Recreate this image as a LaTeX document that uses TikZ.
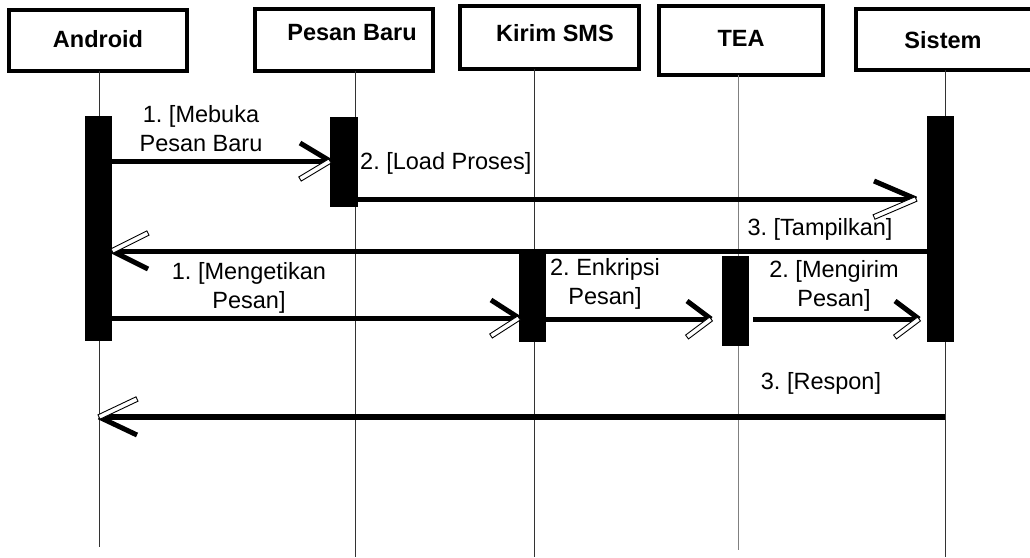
\documentclass[tikz,border=0pt]{standalone}
\usepackage{fontspec}
\setmainfont{Liberation Sans}
\usetikzlibrary{calc,decorations.markings}
\frenchspacing

% Arrow head of a message: a solid barb on the left of the direction of travel
% and an outlined (hollow) barb on the right. #1 = barb length along the line.
\newcommand\msgbarbs[1]{%
  \pgfmathsetmacro\barbang{atan2(-18,-#1)}%
  \pgfmathsetmacro\barblen{veclen(#1,18)}%
  \draw[line width=5pt, line cap=butt] (0pt,0pt) -- (-#1pt,18pt);
  \draw[line width=0.9pt, fill=white, rotate=\barbang] (0pt,-2.4pt) rectangle (\barblen pt,2.4pt);
}

\tikzset{
  actor/.style={draw, line width=3.8pt, fill=white, inner sep=0pt, outer sep=0pt},
  title/.style={font=\fontsize{23.5}{28}\selectfont\bfseries, inner sep=0pt},
  lifeline/.style={line width=1pt, draw=black!80},
  bar/.style={fill=black, inner sep=0pt, outer sep=0pt},
  msglabel/.style={font=\fontsize{23.5}{29}\selectfont, align=center, inner sep=0pt},
  msg/.style={line width=5pt, postaction={decorate},
    decoration={markings, mark=at position 1 with {\msgbarbs{#1}}}},
  msg/.default=30,
}

\begin{document}
\begin{tikzpicture}[x=1pt,y=-1pt]
  \useasboundingbox (0,0) rectangle (1030,557);
  \fill[white] (0,0) rectangle (1030,557);
  \clip (0,0) rectangle (1030,557);

  % object boxes
  \node[actor, minimum width=178.2pt, minimum height=61.2pt] (android) at (98,40.5) {};
  \node[actor, minimum width=178.2pt, minimum height=62.2pt] (pesan) at (344,40) {};
  \node[actor, minimum width=179.2pt, minimum height=63.2pt] (kirim) at (549.5,37.5) {};
  \node[actor, minimum width=164.2pt, minimum height=69.2pt] (tea) at (741,40.5) {};
  \node[actor, minimum width=182.2pt, minimum height=61.2pt] (sistem) at (947,39.5) {};

  \node[title] (tAndroid) at (98,39) {Android};
  \node[title] (tPesan) at (352,33) {Pesan Baru};
  \node[title] (tKirim) at (555,33) {Kirim SMS};
  \node[title] (tTea) at (741,38) {TEA};
  \node[title] (tSistem) at (943,40) {Sistem};

  % lifelines
  \coordinate (endA) at (99,547);
  \coordinate (endP) at (355,557);
  \coordinate (endK) at (534,557);
  \coordinate (endT) at (738,550);
  \coordinate (endS) at (945,557);
  \draw[lifeline] (android.south -| endA) -- (endA);
  \draw[lifeline] (pesan.south -| endP) -- (endP);
  \draw[lifeline] (kirim.south -| endK) -- (endK);
  \draw[lifeline, draw=black!50] (tea.south -| endT) -- (endT);
  \draw[lifeline] (sistem.south -| endS) -- (endS);

  % activation bars
  \node[bar, minimum width=27pt, minimum height=225pt] (barA) at (98.5,228.5) {};
  \node[bar, minimum width=28pt, minimum height=90pt] (barP) at (344,162) {};
  \node[bar, minimum width=27pt, minimum height=93pt] (barK) at (532.5,295.5) {};
  \node[bar, minimum width=27pt, minimum height=90pt] (barT) at (735.5,301) {};
  \node[bar, minimum width=27pt, minimum height=226pt] (barS) at (940.5,229) {};

  % message rows
  \coordinate (m1) at (0,161);
  \coordinate (m2) at (0,199);
  \coordinate (m3) at (0,251);
  \coordinate (m4) at (0,318);
  \coordinate (m5) at (0,319);
  \coordinate (m7) at (0,417);

  \draw[msg=30] (barA.east |- m1) -- (barP.west |- m1);
  \draw[msg=42] (barP.east |- m2) -- ($(barS.west |- m2)+(-11,0)$);
  \draw[msg=36] (barS.west |- m3) -- (barA.east |- m3);
  \draw[msg=28] (barA.east |- m4) -- (barK.west |- m4);
  \draw[msg=24] (barK.east |- m5) -- ($(barT.west |- m5)+(-11,0)$);
  \draw[msg=24] ($(barT.east |- m5)+(4,0)$) -- ($(barS.west |- m5)+(-8,0)$);
  \draw[msg=38, line width=6pt] (endS |- m7) -- (endA |- m7);

  % message labels
  \node[msglabel] (l1) at (201,128.5) {1. [Mebuka\\Pesan Baru};
  \node[msglabel, anchor=west] (l2) at (360,163) {2. [Load Proses]};
  \node[msglabel] (l3) at (820,229) {3. [Tampilkan]};
  \node[msglabel] (l4) at (249,287.5) {1. [Mengetikan\\Pesan]};
  \node[msglabel] (l5) at (605,284) {2. Enkripsi\\Pesan]};
  \node[msglabel] (l6) at (834,286) {2. [Mengirim\\Pesan]};
  \node[msglabel] (l7) at (821,383) {3. [Respon]};
\end{tikzpicture}
\end{document}
